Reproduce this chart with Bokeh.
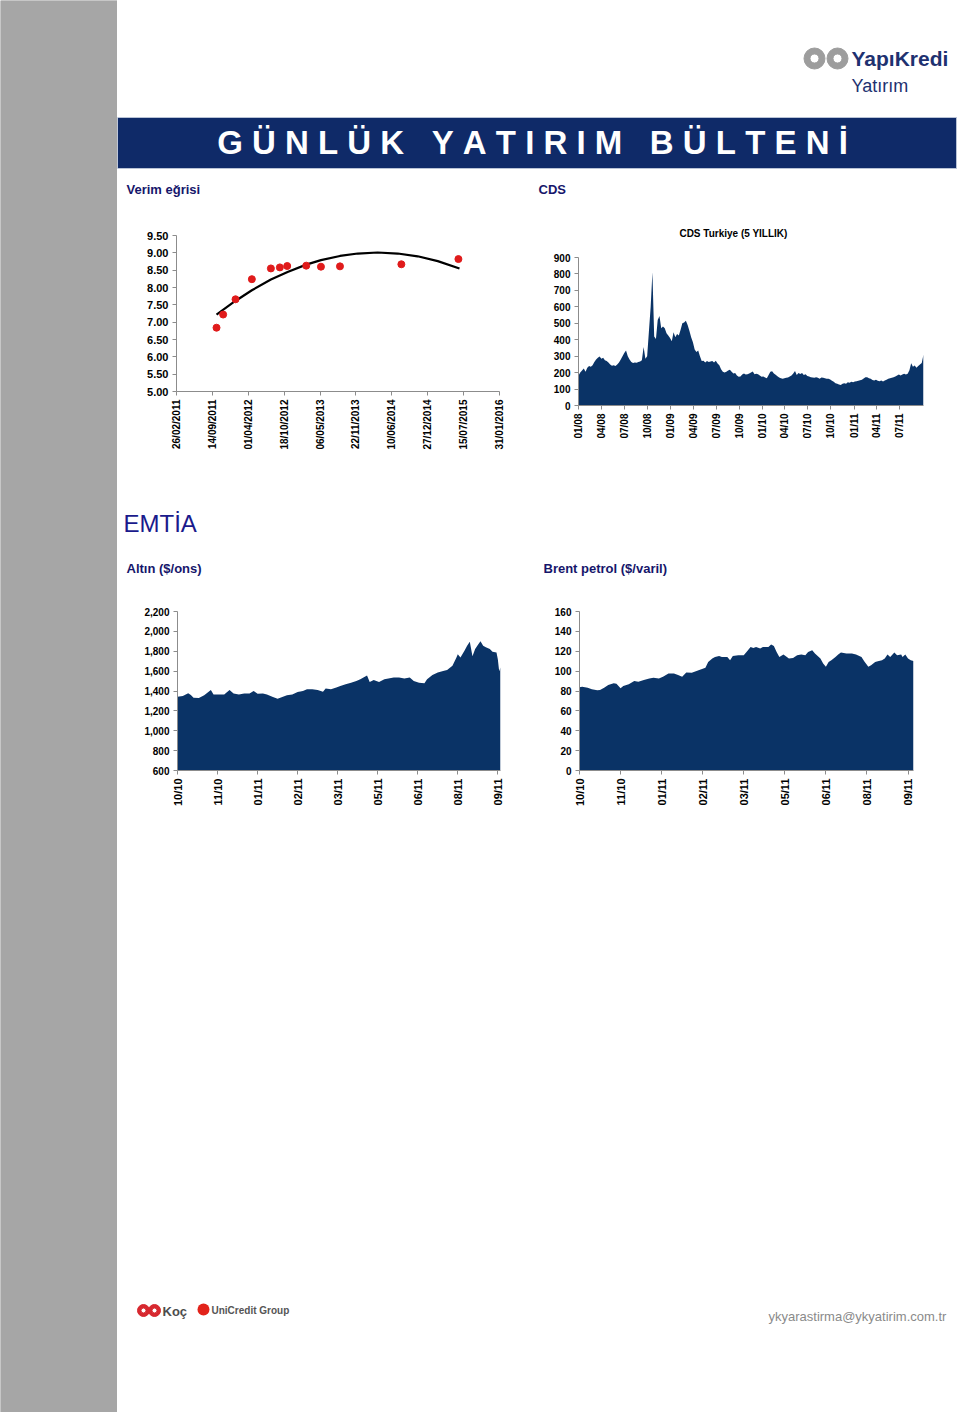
import numpy as np
import pandas as pd
from bokeh.plotting import figure
from bokeh.layouts import row, column
from bokeh.models import Range1d, FixedTicker, DatetimeTickFormatter, NumeralTickFormatter, Spacer
from bokeh.core.properties import value
from bokeh.embed import file_html
from bokeh.resources import INLINE

# ---------------- data ----------------
yield_dates = ["2011-10-07", "2011-11-13", "2012-01-21", "2012-04-21", "2012-08-05", "2012-09-24",
               "2012-11-04", "2013-02-18", "2013-05-11", "2013-08-25", "2014-08-02", "2015-06-16"]
yield_values = [6.84, 7.22, 7.66, 8.24, 8.55, 8.58, 8.62, 8.63, 8.60, 8.61, 8.67, 8.82]
trend_dates = ["2011-10-07", "2012-01-14", "2012-04-21", "2012-08-05", "2012-11-06", "2013-02-18",
               "2013-05-11", "2013-08-25", "2013-12-02", "2014-03-23", "2014-07-13", "2014-11-01",
               "2015-02-21", "2015-06-22"]
trend_values = [7.22, 7.59, 7.92, 8.23, 8.45, 8.66, 8.79, 8.91, 8.98, 9.01, 8.98, 8.90, 8.76, 8.55]
yield_ticks = ["26/02/2011", "14/09/2011", "01/04/2012", "18/10/2012", "06/05/2013",
               "22/11/2013", "10/06/2014", "27/12/2014", "15/07/2015", "31/01/2016"]
yield_yticks = [5.0, 5.5, 6.0, 6.5, 7.0, 7.5, 8.0, 8.5, 9.0, 9.5]

cds_start = "2008-01-01"  # weekly observations
cds_values = [
    182, 200, 213, 225, 205, 230, 240, 235, 245, 265,
    280, 290, 298, 285, 290, 275, 270, 262, 250, 242,
    245, 240, 250, 262, 280, 300, 320, 335, 300, 280,
    265, 258, 262, 260, 265, 268, 275, 355, 285, 300,
    450, 600, 811, 420, 405, 520, 545, 470, 480, 470,
    440, 425, 410, 390, 445, 415, 435, 425, 460, 500,
    505, 515, 490, 455, 415, 385, 340, 325, 335, 300,
    270, 272, 262, 270, 265, 268, 270, 262, 272, 255,
    245, 220, 205, 200, 205, 213, 218, 205, 195, 198,
    183, 175, 176, 188, 195, 188, 190, 195, 200, 207,
    190, 193, 190, 183, 175, 176, 170, 165, 185, 205,
    208, 195, 187, 178, 170, 165, 162, 166, 168, 170,
    176, 182, 195, 210, 185, 198, 192, 198, 185, 190,
    180, 176, 172, 170, 168, 172, 168, 162, 170, 168,
    165, 162, 162, 158, 150, 145, 136, 132, 128, 125,
    132, 136, 132, 142, 138, 144, 142, 146, 148, 150,
    153, 156, 164, 172, 172, 166, 162, 155, 152, 156,
    150, 148, 152, 146, 152, 156, 162, 166, 168, 172,
    176, 182, 189, 182, 189, 193, 189, 193, 215, 257,
    235, 243, 230, 240, 250, 258, 310]
cds_ticks = ["01/08", "04/08", "07/08", "10/08", "01/09", "04/09", "07/09", "10/09",
             "01/10", "04/10", "07/10", "10/10", "01/11", "04/11", "07/11"]
cds_yticks = [0, 100, 200, 300, 400, 500, 600, 700, 800, 900]

commodity_ticks = ["10/10", "11/10", "01/11", "02/11", "03/11", "05/11", "06/11", "08/11", "09/11"]

gold_idx = [0, 4, 8, 10, 12, 16, 20, 25, 27, 31, 35, 39, 42, 46, 50, 54, 57, 60, 64, 67,
            71, 75, 79, 82, 86, 90, 94, 97, 101, 105, 109, 111, 115, 119, 122, 126, 130, 134, 137, 142,
            144, 147, 151, 155, 159, 162, 166, 170, 174, 177, 181, 185, 187, 191, 195, 199, 202, 206, 209, 210,
            212, 215, 217, 219, 221, 223, 225, 227, 229, 231, 234, 236, 239, 240, 241, 242]
gold_values = [1343, 1350, 1378, 1360, 1333, 1330, 1356, 1410, 1366, 1366,
               1366, 1410, 1376, 1366, 1376, 1376, 1400, 1373, 1376, 1366,
               1343, 1322, 1343, 1356, 1366, 1390, 1400, 1417, 1417, 1410,
               1393, 1424, 1417, 1434, 1450, 1468, 1484, 1500, 1518, 1555,
               1490, 1511, 1490, 1518, 1528, 1535, 1535, 1525, 1535, 1500,
               1484, 1478, 1518, 1560, 1585, 1602, 1612, 1653, 1737, 1771,
               1737, 1805, 1856, 1896, 1750, 1822, 1863, 1900, 1856, 1839,
               1822, 1795, 1788, 1720, 1600, 1636]
gold_yticks = [600, 800, 1000, 1200, 1400, 1600, 1800, 2000, 2200]

brent_idx = [0, 2, 6, 9, 13, 15, 18, 21, 25, 27, 30, 32, 36, 40, 43, 47, 51, 54, 58, 61,
             65, 69, 72, 75, 78, 82, 86, 89, 92, 94, 97, 99, 102, 104, 108, 110, 112, 116, 120, 122,
             125, 127, 129, 132, 134, 138, 140, 142, 144, 146, 149, 153, 156, 159, 162, 165, 167, 170, 172, 176,
             178, 180, 182, 184, 187, 189, 191, 195, 199, 202, 206, 208, 211, 213, 216, 218, 221, 223, 225, 227,
             230, 232, 235, 236, 238, 240, 242, 244]
brent_values = [83.7, 84.3, 83.3, 81.7, 80.7, 81.0, 83.3, 86.0, 87.7, 87.3,
                82.7, 85.0, 86.7, 90.0, 89.3, 91.0, 92.7, 93.3, 92.7, 94.3,
                97.7, 97.7, 96.0, 94.3, 98.7, 98.3, 100.3, 102.0, 103.3, 109.3,
                112.7, 114.3, 115.3, 114.3, 114.3, 111.0, 115.3, 116.0, 116.0, 119.3,
                124.3, 123.3, 124.3, 122.7, 124.3, 124.3, 126.7, 125.3, 119.3, 114.3,
                116.7, 112.7, 113.3, 116.0, 116.7, 116.0, 119.3, 121.0, 117.7, 112.7,
                107.7, 104.3, 109.3, 111.0, 114.3, 116.7, 118.7, 117.7, 117.7, 116.7,
                114.3, 110.0, 104.3, 106.0, 109.3, 110.0, 111.0, 112.7, 116.7, 114.3,
                118.7, 116.0, 116.7, 114.3, 116.7, 112.7, 111.0, 110.3]
brent_yticks = [0, 20, 40, 60, 80, 100, 120, 140, 160]

title_words = ["GÜNLÜK", "YATIRIM", "BÜLTENİ"]

# ---------------- style ----------------
FONT = "Liberation Sans"
AREA = "#0a3366"
BAR = "#0f2a68"
TITLE_NAVY = "#16166b"
AXIS_GRAY = "#8c8c8c"
GRAY_BAND = "#a6a6a6"
NB = "\u00a0"


def ms(vals):
    return [pd.Timestamp(v).value / 1e6 for v in vals]


def dt_formatter(fmt):
    return DatetimeTickFormatter(microseconds=fmt, milliseconds=fmt, seconds=fmt, minsec=fmt,
                                 minutes=fmt, hourmin=fmt, hours=fmt, days=fmt, months=fmt, years=fmt)


def chart(x_range, y_range, left, fw, right, top, fh, bottom, x_axis_type="linear",
          xsize="10px", ysize="10px"):
    p = figure(x_range=x_range, y_range=y_range, x_axis_type=x_axis_type,
               frame_width=fw, frame_height=fh,
               min_border_left=left, min_border_right=right,
               min_border_top=top, min_border_bottom=bottom,
               toolbar_location=None, output_backend="svg")
    p.grid.visible = False
    p.outline_line_color = None
    p.background_fill_color = "white"
    p.border_fill_color = "white"
    for ax in p.axis:
        ax.axis_line_color = AXIS_GRAY
        ax.major_tick_line_color = AXIS_GRAY
        ax.minor_tick_line_color = None
        ax.major_tick_in = 0
        ax.major_tick_out = 4
        ax.major_label_standoff = 4
        ax.major_label_text_font = FONT
        ax.major_label_text_font_style = "bold"
        ax.major_label_text_color = "black"
    p.xaxis.major_label_text_font_size = xsize
    p.yaxis.major_label_text_font_size = ysize
    p.xaxis.major_label_orientation = np.pi / 2
    return p


def decor(x0, x1, y0, y1, left=0, right=0):
    p = figure(frame_width=x1 - x0, frame_height=y1 - y0,
               x_range=Range1d(x0, x1), y_range=Range1d(y1, y0),
               min_border_left=left, min_border_right=right, min_border_top=0, min_border_bottom=0,
               toolbar_location=None, output_backend="svg",
               x_axis_location=None, y_axis_location=None)
    p.grid.visible = False
    p.outline_line_color = None
    p.background_fill_color = "white"
    p.border_fill_color = "white"
    return p


def label(p, x, y, txt, size, color, style="normal", align="left"):
    p.text(x=[x], y=[y], text=[txt], text_font=value(FONT), text_font_size=size,
           text_font_style=style, text_color=color, text_baseline="middle", text_align=align)


# ---------------- yield curve ----------------
ytick_ts = pd.to_datetime(yield_ticks, format="%d/%m/%Y")
p_yield = chart(Range1d(ytick_ts[0], ytick_ts[-1]), Range1d(5.0, 9.5),
                59, 323, 26, 17, 156, 79, x_axis_type="datetime", xsize="10px", ysize="11px")
p_yield.xaxis.ticker = FixedTicker(ticks=ms(ytick_ts))
p_yield.xaxis.formatter = dt_formatter("%d/%m/%Y")
p_yield.yaxis.ticker = FixedTicker(ticks=yield_yticks)
p_yield.yaxis.formatter = NumeralTickFormatter(format="0.00")
p_yield.line(pd.to_datetime(trend_dates), trend_values, line_color="black", line_width=2.2)
p_yield.scatter(pd.to_datetime(yield_dates), yield_values, size=7, fill_color="#e01b1b",
                line_color="#e01b1b")

# ---------------- CDS ----------------
cds_dates = pd.date_range(cds_start, periods=len(cds_values), freq="7D")
cds_tick_ts = pd.to_datetime(["01/" + t for t in cds_ticks], format="%d/%m/%y")
p_cds = chart(Range1d(cds_dates[0], cds_dates[-1]), Range1d(0, 900),
              53, 345, 37, 17, 148, 79, x_axis_type="datetime", xsize="10px", ysize="10px")
p_cds.xaxis.ticker = FixedTicker(ticks=ms(cds_tick_ts))
p_cds.xaxis.formatter = dt_formatter("%m/%y")
p_cds.yaxis.ticker = FixedTicker(ticks=cds_yticks)
p_cds.varea(x=cds_dates, y1=0, y2=cds_values, fill_color=AREA)

cds_head = decor(578, 923, 205, 240, left=53, right=37)
label(cds_head, 733, 233, "CDS Turkiye (5 YILLIK)", "10px", "black", "bold", "center")

# ---------------- Gold ----------------
ctick_pos = [30 * i for i in range(len(commodity_ticks))]
overrides = {pos: lab for pos, lab in zip(ctick_pos, commodity_ticks)}
p_gold = chart(Range1d(0, gold_idx[-1]), Range1d(600, 2200), 60, 323, 30, 16, 159, 62,
               xsize="11px", ysize="10px")
p_gold.xaxis.ticker = FixedTicker(ticks=ctick_pos)
p_gold.xaxis.major_label_overrides = overrides
p_gold.yaxis.ticker = FixedTicker(ticks=gold_yticks)
p_gold.yaxis.formatter = NumeralTickFormatter(format="0,0")
p_gold.varea(x=gold_idx, y1=600, y2=gold_values, fill_color=AREA)

# ---------------- Brent ----------------
p_brent = chart(Range1d(0, brent_idx[-1]), Range1d(0, 160), 49, 334, 47, 16, 159, 62,
                xsize="11px", ysize="10px")
p_brent.xaxis.ticker = FixedTicker(ticks=ctick_pos)
p_brent.xaxis.major_label_overrides = overrides
p_brent.yaxis.ticker = FixedTicker(ticks=brent_yticks)
p_brent.varea(x=brent_idx, y1=0, y2=brent_values, fill_color=AREA)

# ---------------- page decoration ----------------
header_text = (NB * 3).join(NB.join(w) for w in title_words)

top = decor(117, 960, 0, 205)
top.annulus(x=[814, 837], y=[58, 58], inner_radius=4.5, outer_radius=10.5, color="#9d9d9d")
label(top, 851, 58, "YapıKredi", "21px", "#1e3170", "bold")
label(top, 851, 85, "Yatırım", "18px", "#1e3170")
top.quad(left=117, right=956, top=117, bottom=168, fill_color=BAR, line_color="#b9c3d6", line_width=1)
label(top, 532, 142, header_text, "33px", "white", "bold", "center")
label(top, 126, 189, "Verim eğrisi", "13px", TITLE_NAVY, "bold")
label(top, 538, 189, "CDS", "13px", TITLE_NAVY, "bold")

mid = decor(117, 960, 484, 595)
label(mid, 123, 523, "EMTİA", "24px", "#1a1a8c")
label(mid, 126, 568, "Altın ($/ons)", "13px", TITLE_NAVY, "bold")
label(mid, 543, 568, "Brent petrol ($/varil)", "13px", TITLE_NAVY, "bold")

bottom = decor(117, 960, 832, 1412)
bottom.annulus(x=[143, 154], y=[1310, 1310], inner_radius=2.5, outer_radius=6, color="#d7282f")
label(bottom, 162, 1311, "Koç", "13px", "#4d4d4d", "bold")
bottom.circle(x=[203], y=[1309], radius=6, fill_color="#e2231a", line_color=None)
label(bottom, 211, 1310, "UniCredit Group", "10px", "#555555", "bold")
label(bottom, 768, 1316, "ykyarastirma@ykyatirim.com.tr", "13px", "#8a8a8a")

band = figure(frame_width=117, frame_height=1412, x_range=Range1d(0, 117), y_range=Range1d(1412, 0),
              min_border=0, toolbar_location=None, output_backend="svg",
              x_axis_location=None, y_axis_location=None)
band.grid.visible = False
band.outline_line_color = None
band.background_fill_color = GRAY_BAND
band.border_fill_color = GRAY_BAND
band.quad(left=0, right=117, top=0, bottom=1412, fill_color=GRAY_BAND, line_color=None)

row1 = row(column(Spacer(width=408, height=13), p_yield), column(cds_head, p_cds))
row2 = row(p_gold, p_brent)
main = column(top, row1, mid, row2, bottom)
root = row(band, main)

open("out.html", "w").write(file_html(root, INLINE))
